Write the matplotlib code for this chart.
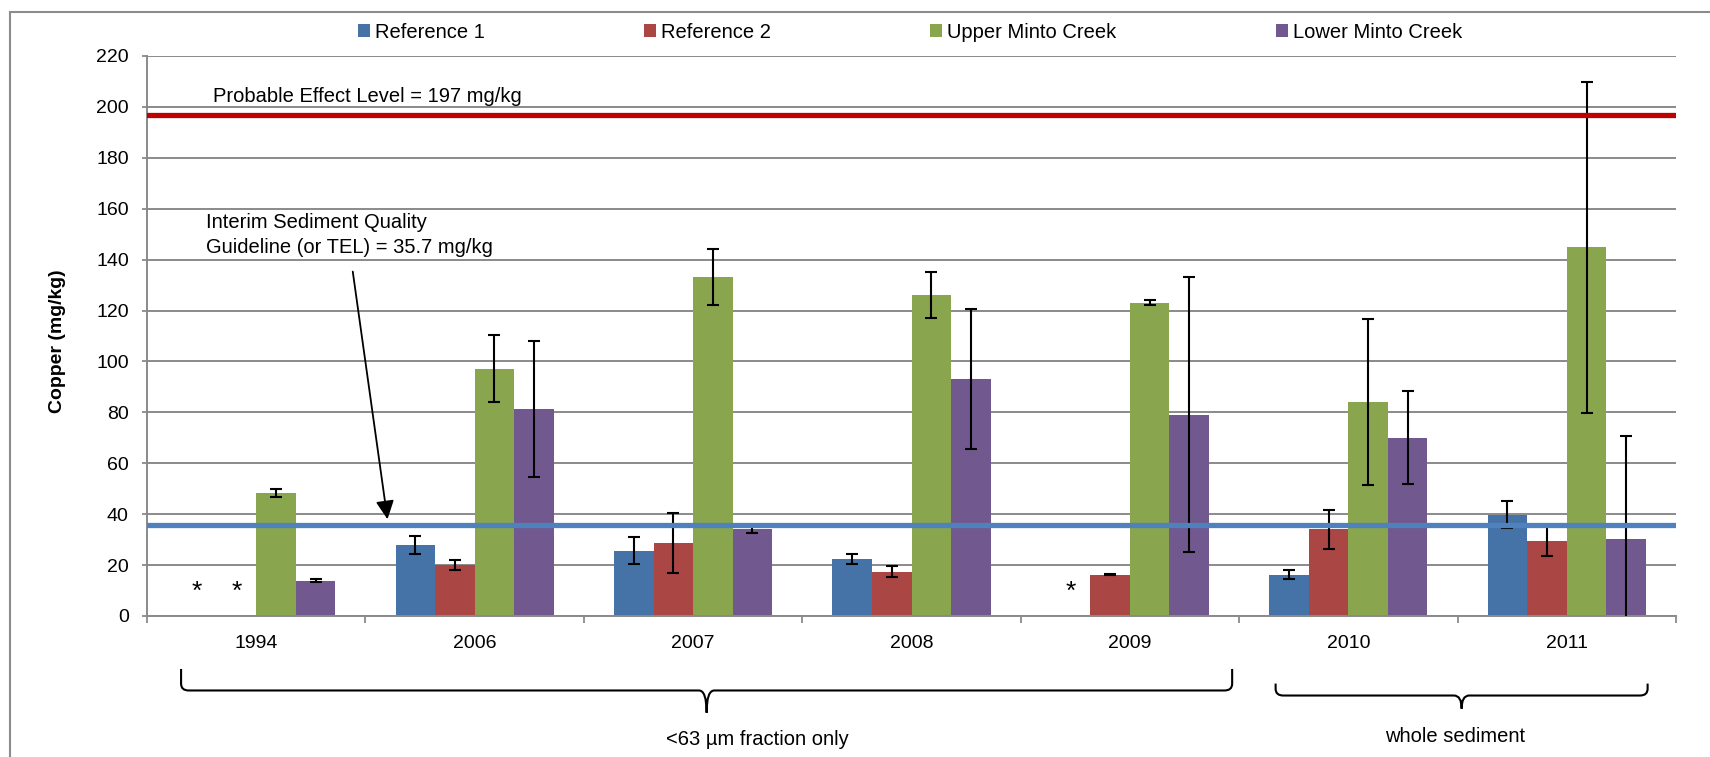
import numpy as np
import matplotlib
matplotlib.use('Agg')
import matplotlib.pyplot as plt
import matplotlib.transforms as mtransforms
from matplotlib.path import Path
from matplotlib.patches import PathPatch, Rectangle

plt.rcParams['font.family'] = ['Liberation Sans', 'DejaVu Sans']

years = ['1994', '2006', '2007', '2008', '2009', '2010', '2011']
series = ['Reference 1', 'Reference 2', 'Upper Minto Creek', 'Lower Minto Creek']
ref1 = [np.nan, 28.0, 25.7, 22.4, np.nan, 16.3, 39.8]
ref1_err = [np.nan, 3.6, 5.4, 1.8, np.nan, 1.7, 5.2]
ref2 = [np.nan, 20.1, 28.6, 17.4, 16.2, 34.0, 29.5]
ref2_err = [np.nan, 2.0, 11.7, 2.1, 0.2, 7.6, 6.0]
upper = [48.2, 97.2, 133.2, 126.0, 123.0, 84.0, 144.9]
upper_err = [1.5, 13.0, 11.0, 9.0, 1.0, 32.6, 65.0]
lower = [13.8, 81.4, 34.0, 93.0, 79.0, 70.0, 30.4]
lower_err = [0.6, 26.7, 1.5, 27.5, 54.0, 18.3, 40.2]
colors = ['#4572A7', '#AA4643', '#89A54E', '#71588F']

pel = 197
tel = 35.7

values = [ref1, ref2, upper, lower]
errors = [ref1_err, ref2_err, upper_err, lower_err]

fig = plt.figure(figsize=(17.1, 7.57), dpi=100)
ax = fig.add_axes([147 / 1710, 1 - 616 / 757, 1529 / 1710, 560 / 757])

x = np.arange(len(years))
width = 0.181
for i, (vals, errs, c, name) in enumerate(zip(values, errors, colors, series)):
    pos = x + (i - 1.5) * width
    ax.bar(pos, vals, width, color=c, label=name, zorder=2)
    ax.errorbar(pos, vals, yerr=errs, fmt='none', ecolor='black',
                elinewidth=1.5, capsize=4, capthick=1.5, zorder=3)
    # asterisk where no sample
    for p, v in zip(pos, vals):
        if np.isnan(v):
            ax.text(p, 9.5, '*', ha='center', va='center', fontsize=19)

# guideline lines
ax.axhline(pel, color='#C00000', lw=3.8, zorder=4)
ax.axhline(tel, color='#4F81BD', lw=3.8, zorder=4)

ax.text(-0.197, 201.8, 'Probable Effect Level = 197 mg/kg', fontsize=14.5,
        va='baseline', ha='left')
ax.text(-0.231, 142.6, 'Interim Sediment Quality\nGuideline (or TEL) = 35.7 mg/kg',
        fontsize=14.5, va='baseline', ha='left', linespacing=1.4)
ax.annotate('', xy=(0.601, 38.0), xytext=(0.442, 135.3),
            arrowprops=dict(arrowstyle='-|>,head_length=0.45,head_width=0.22',
                            color='black', lw=1.3, mutation_scale=25,
                            shrinkA=0, shrinkB=0), zorder=5)

# axes styling
ax.set_xlim(-0.5, 6.5)
ax.set_ylim(0, 220)
ax.set_yticks(np.arange(0, 221, 20))
ax.set_xticks(x)
ax.set_xticklabels(years)
ax.set_xticks(np.arange(-0.5, 7, 1), minor=True)
ax.tick_params(axis='x', which='major', length=0, pad=14, labelsize=14)
ax.tick_params(axis='x', which='minor', length=4.8, width=1.3, color='#8a8a8a')
ax.tick_params(axis='y', length=3.6, width=1.3, color='#8a8a8a', pad=9.5, labelsize=14)
ax.yaxis.grid(True, color='#8a8a8a', lw=1.4)
ax.set_axisbelow(True)
for s in ['top', 'right']:
    ax.spines[s].set_visible(False)
for s in ['left', 'bottom']:
    ax.spines[s].set_color('#8a8a8a')
    ax.spines[s].set_linewidth(1.4)

fig.text(57 / 1710, 1 - 341 / 757, 'Copper (mg/kg)', rotation=90, fontsize=14,
         fontweight='bold', ha='center', va='center')

ax.legend(loc='center', bbox_to_anchor=(0.499, 1.042), ncol=4, frameon=False,
          fontsize=14.5, handlelength=0.6, handleheight=0.6, handletextpad=0.25,
          columnspacing=7.9, borderpad=0, borderaxespad=0)

# braces under the x axis
trans = mtransforms.blended_transform_factory(ax.transData, ax.transAxes)


def brace(x0, x1, yt, yl, yb):
    xc = (x0 + x1) / 2
    rx, ry = 0.035, 0.012
    verts = [(x0, yt), (x0, yl + ry), (x0, yl), (x0 + rx, yl),
             (xc - rx, yl), (xc, yl), (xc, yb),
             (xc, yl), (xc + rx, yl),
             (x1 - rx, yl), (x1, yl), (x1, yl + ry), (x1, yt)]
    codes = [Path.MOVETO, Path.LINETO, Path.CURVE3, Path.CURVE3,
             Path.LINETO, Path.CURVE3, Path.CURVE3,
             Path.CURVE3, Path.CURVE3,
             Path.LINETO, Path.CURVE3, Path.CURVE3, Path.LINETO]
    patch = PathPatch(Path(verts, codes), fill=False, lw=1.5, ec='black',
                      transform=trans, clip_on=False)
    ax.add_patch(patch)


brace(-0.344, 4.468, -0.0946, -0.133, -0.1727)
brace(4.667, 6.37, -0.1207, -0.142, -0.1655)
ax.text(2.293, -0.22, '<63 µm fraction only', transform=trans, fontsize=14.5,
        ha='center', va='center')
ax.text(5.49, -0.216, 'whole sediment', transform=trans, fontsize=14.5,
        ha='center', va='center')

# outer chart border (cut off at right and bottom)
fig.add_artist(Rectangle((10 / 1710, -0.1), 1.2, 1.1 - 12 / 757, fill=False,
                         ec='#8c8c8c', lw=1.5, transform=fig.transFigure))

fig.savefig('out.png', dpi=100)
